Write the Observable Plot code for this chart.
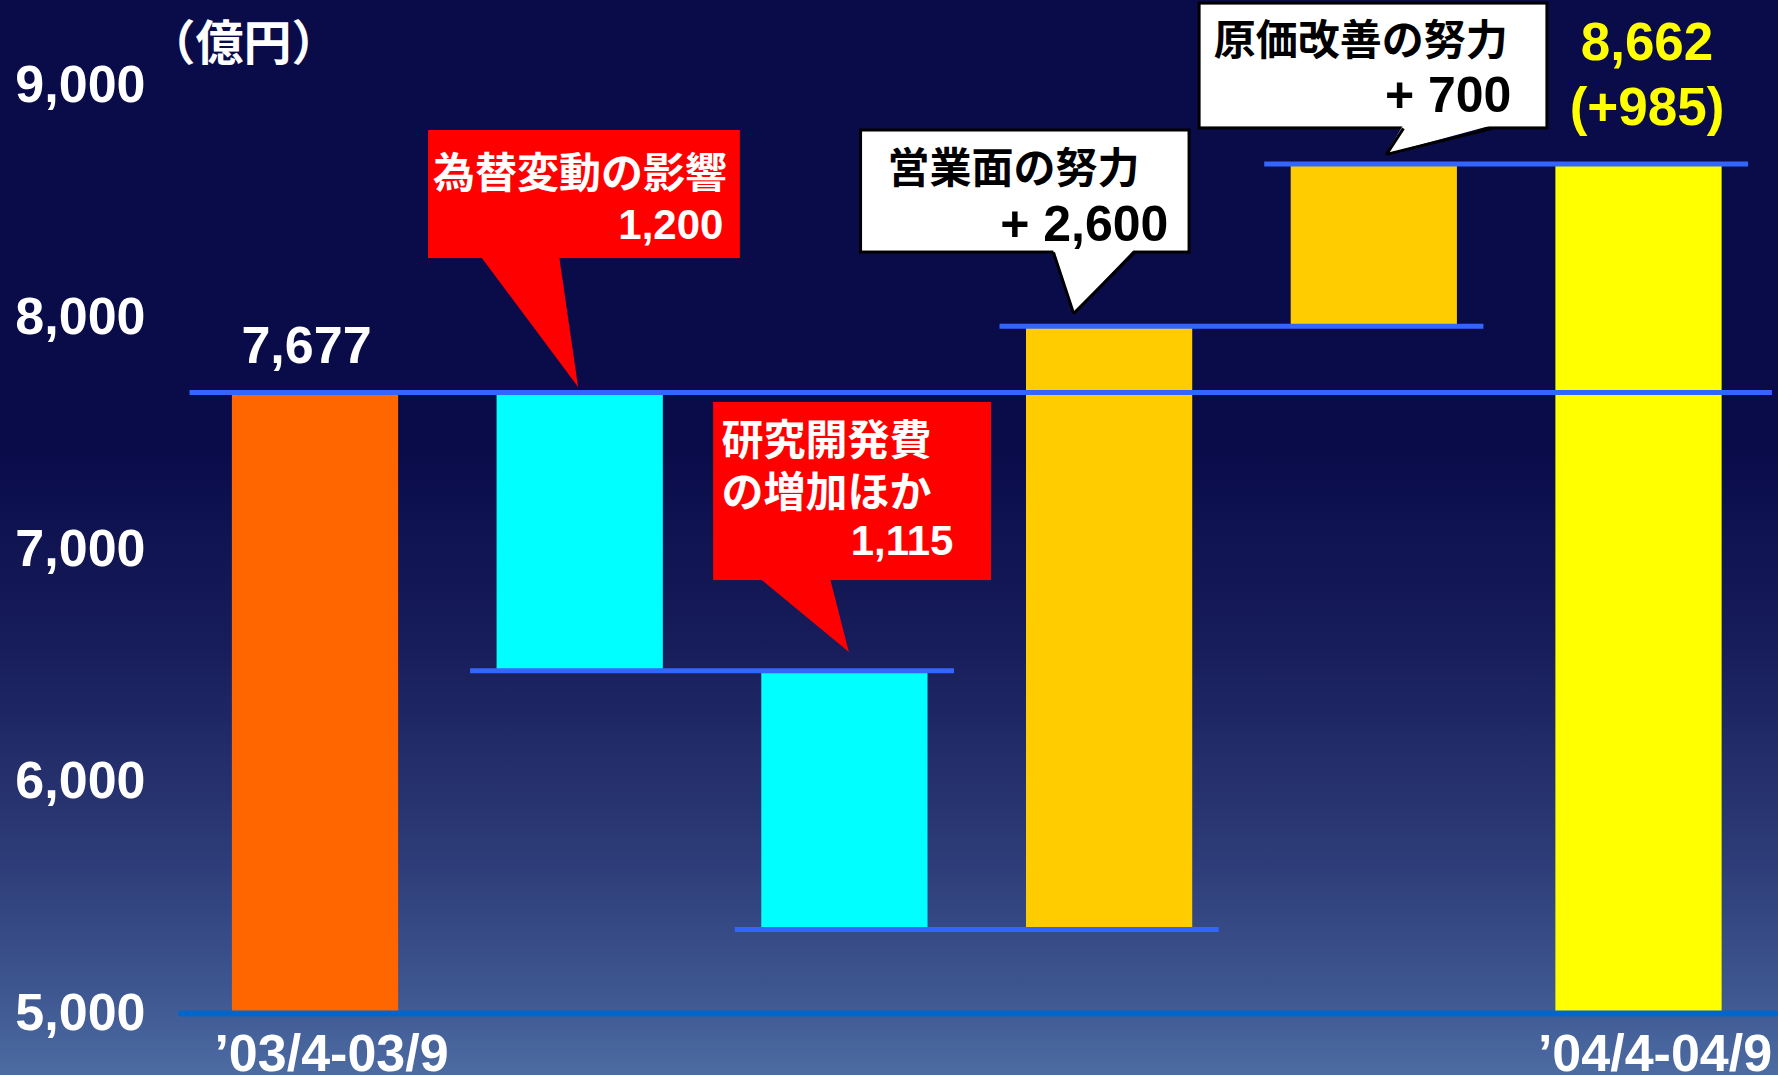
<!DOCTYPE html>
<html>
<head>
<meta charset="utf-8">
<script src="https://cdn.jsdelivr.net/npm/d3@7"></script>
<script src="https://cdn.jsdelivr.net/npm/@observablehq/plot@0.6"></script>
<style>
  html, body { margin: 0; padding: 0; overflow: hidden; background: #0A0C4A; }
  #chart svg { display: block; }
</style>
</head>
<body>
<div id="chart"></div>
<script>
// ---- data ----
const categories = ["’03/4-03/9", "為替変動の影響", "研究開発費の増加ほか", "営業面の努力", "原価改善の努力", "’04/4-04/9"];
const changes = [7677, -1200, -1115, 2600, 700, 8662];   // first & last are totals
const kinds = ["total", "minus", "minus", "plus", "plus", "total"];
const yTicks = [5000, 6000, 7000, 8000, 9000];
const xTickLabels = ["’03/4-03/9", "", "", "", "", "’04/4-04/9"];
const unitLabel = "（億円）";
const totalLabel = "8,662";
const diffLabel = "(+985)";

// ---- derived waterfall table ----
const base = 5000;
let running = 0;
const bars = categories.map((c, i) => {
  let y1, y2;
  if (kinds[i] === "total") { y1 = base; y2 = changes[i]; running = changes[i]; }
  else { y1 = running; y2 = running + changes[i]; running = y2; }
  return {i, c, kind: kinds[i], y1, y2, top: Math.max(y1, y2)};
});
const colorOf = {total: "#FF6600", minus: "#00FFFF", plus: "#FFCC00"};
bars[5].fillColor = "#FFFF00";
bars.forEach(b => { if (!b.fillColor) b.fillColor = colorOf[b.kind]; });

const hw = 0.314; // half bar width in band units
const ext = 0.1;
// connector lines between consecutive steps
const connectors = [];
for (let i = 1; i < bars.length - 1; i++) {
  connectors.push({x1: i - hw - ext, x2: i + 1 + hw + ext, y: bars[i].kind === "minus" ? Math.min(bars[i].y1, bars[i].y2) : Math.max(bars[i].y1, bars[i].y2)});
}
connectors.push({x1: -hw - 0.16, x2: 5 + hw + 0.19, y: changes[0]});

// ---- callout layout (in data units) ----
const callouts = [
  {id: 0, fill: "#FF0000", stroke: "none", ink: "white",
   bx1: 0.427, bx2: 1.605, by1: 8254, by2: 8806, px1: 0.624, px2: 0.922, tx: 0.994, ty: 7698,
   lines: [{t: "為替変動の影響", x: 0.444, y: 8616, a: "start", s: 42}, {t: "1,200", x: 1.541, y: 8397, a: "end", s: 42}]},
  {id: 1, fill: "#FF0000", stroke: "none", ink: "white",
   bx1: 1.504, bx2: 2.554, by1: 6866, by2: 7634, px1: 1.677, px2: 1.945, tx: 2.017, ty: 6556,
   lines: [{t: "研究開発費", x: 1.534, y: 7466, a: "start", s: 42}, {t: "の増加ほか", x: 1.534, y: 7241, a: "start", s: 42}, {t: "1,115", x: 2.41, y: 7034, a: "end", s: 42}]},
  {id: 2, fill: "#FFFFFF", stroke: "black", ink: "black",
   bx1: 2.061, bx2: 3.302, by1: 8280, by2: 8806, px1: 2.788, px2: 3.094, tx: 2.864, ty: 8017,
   lines: [{t: "営業面の努力", x: 2.161, y: 8638, a: "start", s: 42}, {t: "+ 2,600", x: 3.222, y: 8397, a: "end", s: 50}]},
  {id: 3, fill: "#FFFFFF", stroke: "black", ink: "black",
   bx1: 3.340, bx2: 4.654, by1: 8815, by2: 9353, px1: 4.110, px2: 4.443, tx: 4.046, ty: 8703,
   lines: [{t: "原価改善の努力", x: 3.393, y: 9190, a: "start", s: 42}, {t: "+ 700", x: 4.518, y: 8953, a: "end", s: 50}]}
];
const tri = callouts.flatMap(c => [
  {id: c.id, fill: c.fill, y: c.by1 + 10, x1: c.px1, x2: c.px2},
  {id: c.id, fill: c.fill, y: c.ty, x1: c.tx, x2: c.tx}
]);
const triEdges = callouts.filter(c => c.stroke !== "none").flatMap(c => [
  {x1: c.px1, y1: c.by1, x2: c.tx, y2: c.ty},
  {x1: c.px2, y1: c.by1, x2: c.tx, y2: c.ty}
]);
const noteText = callouts.flatMap(c => c.lines.map(l => ({...l, ink: c.ink})));

const FONT = "'Liberation Sans', Arial, 'Noto Sans CJK JP', sans-serif";
const JFONT = "'Noto Sans CJK JP', 'Liberation Sans', sans-serif";

const chart = Plot.plot({
  width: 1778,
  height: 1075,
  marginLeft: 150,
  marginRight: 0,
  marginTop: 85,
  marginBottom: 62,
  style: {
    background: "linear-gradient(to bottom, #0A0C4A 0%, #0A0C4A 42%, #171D5A 60%, #2D3C78 80%, #3E5690 92%, #4C6CA2 100%)",
    fontFamily: FONT,
    overflow: "visible"
  },
  x: {type: "linear", domain: [-0.6234, 5.527], axis: null},
  y: {domain: [5000, 9000], axis: null},
  marks: [
    Plot.rect(bars, {x1: d => d.i - hw, x2: d => d.i + hw, y1: "y1", y2: "y2", fill: d => d.fillColor}),
    Plot.ruleY(connectors, {x1: "x1", x2: "x2", y: "y", stroke: "#3366FF", strokeWidth: 5}),
    Plot.ruleY([base], {x1: -0.506, x2: 5.516, stroke: "#0066CC", strokeWidth: 6, strokeLinecap: "round"}),
    Plot.axisY({ticks: yTicks, tickFormat: d3.format(","), tickSize: 0, tickPadding: 5, label: null,
      fontSize: 52, fontWeight: "bold", fill: "white", fontFamily: FONT}),
    Plot.axisX({ticks: [0, 5], tickFormat: i => xTickLabels[i], tickSize: 0, tickPadding: 21, label: null,
      fontSize: 52, fontWeight: "bold", fill: "white", fontFamily: FONT, dx: 16}),
    // callouts
    Plot.rect(callouts, {x1: "bx1", x2: "bx2", y1: "by1", y2: "by2", fill: "fill", stroke: "stroke", strokeWidth: 3}),
    Plot.areaX(tri, {y: "y", x1: "x1", x2: "x2", z: "id", fill: "fill", curve: "linear"}),
    Plot.link(triEdges, {x1: "x1", y1: "y1", x2: "x2", y2: "y2", stroke: "black", strokeWidth: 3}),
    Plot.text(noteText.filter(d => d.a === "start"), {x: "x", y: "y", text: "t", textAnchor: "start", fill: "ink", fontSize: "s", fontWeight: "bold", fontFamily: FONT}),
    Plot.text(noteText.filter(d => d.a === "end"), {x: "x", y: "y", text: "t", textAnchor: "end", fill: "ink", fontSize: "s", fontWeight: "bold", fontFamily: FONT}),
    // value labels
    Plot.text([bars[0]], {x: "i", y: "top", text: d => d3.format(",")(d.top), dx: -9, dy: -46, fill: "white", fontSize: 52, fontWeight: "bold", fontFamily: FONT}),
    Plot.text([bars[5]], {x: "i", y: "top", text: () => totalLabel, dx: 8, dy: -121, fill: "#FFFF00", fontSize: 53, fontWeight: "bold", fontFamily: FONT}),
    Plot.text([bars[5]], {x: "i", y: "top", text: () => diffLabel, dx: 8, dy: -56, fill: "#FFFF00", fontSize: 53, fontWeight: "bold", fontFamily: FONT}),
    // unit
    Plot.text([9000], {x: -0.6234, y: d => d, text: () => unitLabel, textAnchor: "start", dx: -3, dy: -41, fill: "white", fontSize: 48, fontWeight: "bold", fontFamily: JFONT})
  ]
});
document.getElementById("chart").appendChild(chart);
</script>
</body>
</html>
